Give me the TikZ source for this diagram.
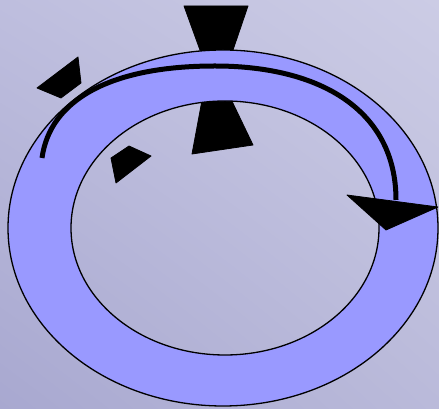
\documentclass[tikz,border=0pt]{standalone}
\usetikzlibrary{shadings}
\begin{document}
\begin{tikzpicture}[x=1pt,y=1pt,
  blackshape/.style={fill=black,draw=black,line width=0.8pt,line join=round},
  ringstyle/.style={fill=ringblue,draw=black,line width=1.3pt,even odd rule},
  arcstyle/.style={draw=black,line width=5pt}]
\definecolor{ringblue}{HTML}{9999FF}
\definecolor{bgul}{RGB}{190,190,222}
\definecolor{bgur}{RGB}{204,204,229}
\definecolor{bgll}{RGB}{168,168,208}
\definecolor{bglr}{RGB}{186,186,218}
\useasboundingbox (0,0) rectangle (439,409);
\shade[upper left=bgul,upper right=bgur,lower left=bgll,lower right=bglr] (0,0) rectangle (439,409);
% hourglass pieces (beneath the ring)
\path[blackshape] (184,403) -- (248,403) -- (229.6,349) -- (203.6,349) -- cycle;
\path[blackshape] (203,314) -- (229,314) -- (253,264) -- (192,255) -- cycle;
% small shapes
\path[blackshape] (37,321) -- (78,352) -- (81,326) -- (61,311) -- cycle;
\path[blackshape] (111,251) -- (129,263) -- (151,253) -- (116,226) -- cycle;
% ring
\path[ringstyle] (223,181) ellipse[x radius=215,y radius=178]
                 (225,181) ellipse[x radius=154,y radius=127];
% arc with arrowhead
\coordinate (arcstart) at (42,251);
\coordinate (arctop) at (215,343);
\coordinate (arcend) at (396,209);
\draw[arcstyle] (arcstart) .. controls (50,309) and (110,343) .. (arctop)
                .. controls (320,343) and (396,299) .. (arcend);
\path[blackshape] (347,214) -- (438,202) -- (386,179) -- cycle;
\end{tikzpicture}
\end{document}
